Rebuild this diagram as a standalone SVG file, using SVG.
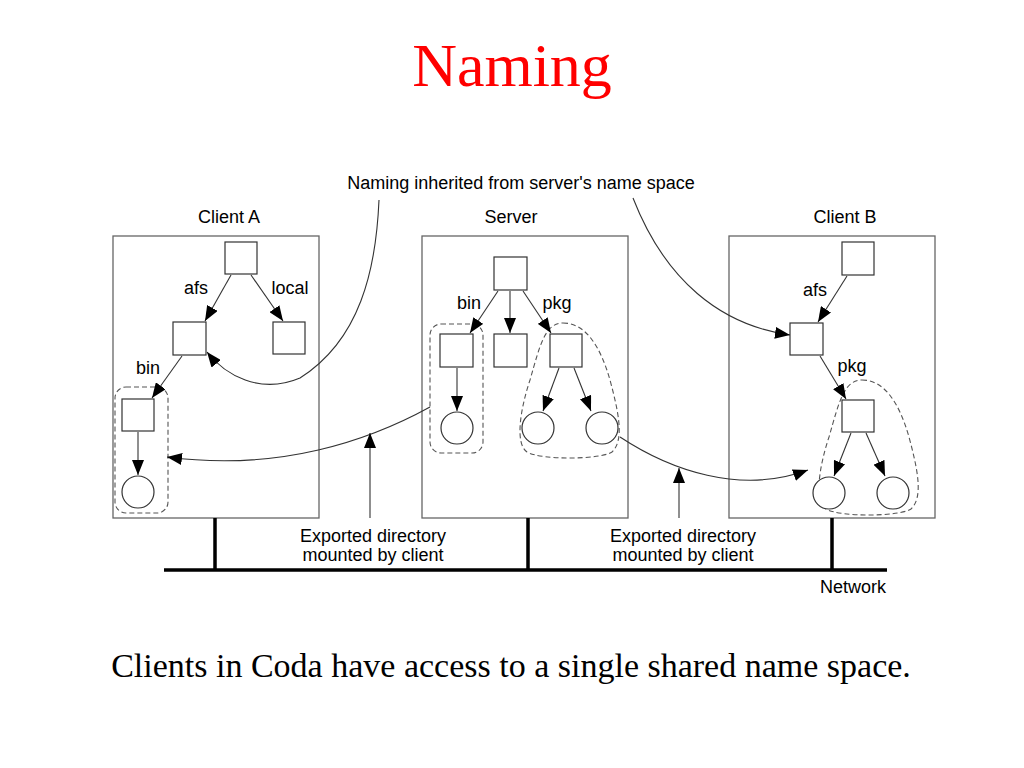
<svg xmlns="http://www.w3.org/2000/svg" width="1024" height="768" viewBox="0 0 1024 768">
<defs>
<marker id="ah" markerWidth="15" markerHeight="12" refX="15" refY="6" orient="auto" markerUnits="userSpaceOnUse">
<path d="M0,0 L15,6 L0,12 Z" fill="#000"/>
</marker>
<path id="blob" d="M 563 323 C 585 323, 600 345, 610 380 C 618 410, 625 440, 612 452 C 600 460, 540 460, 527 452 C 515 444, 520 410, 530 380 C 540 345, 545 323, 563 323 Z"/>
</defs>
<style>
.box{fill:none;stroke:#666;stroke-width:1.3}
.nd{fill:#fff;stroke:#333;stroke-width:1.2}
.dash{fill:none;stroke:#555;stroke-width:1.1;stroke-dasharray:5 3}
.ln{fill:none;stroke:#333;stroke-width:1.1;marker-end:url(#ah)}
.net{fill:none;stroke:#000;stroke-width:3.5}
.lab{font-family:"Liberation Sans",Arial,sans-serif;font-size:18px;fill:#000}
.c{text-anchor:middle}
</style>
<rect width="1024" height="768" fill="#fff"/>
<text x="512" y="86" font-family="'Liberation Serif','Times New Roman',serif" font-size="62" fill="#ff0000" text-anchor="middle">Naming</text>

<text class="lab c" x="521" y="189">Naming inherited from server's name space</text>
<text class="lab c" x="229" y="223">Client A</text>
<text class="lab c" x="511" y="223">Server</text>
<text class="lab c" x="845" y="223">Client B</text>

<g id="clientA">
<rect class="box" x="113" y="236" width="206" height="282"/>
<rect class="nd" x="225" y="242" width="32" height="32"/>
<rect class="nd" x="173" y="322" width="33" height="33"/>
<rect class="nd" x="273" y="322" width="32" height="32"/>
<rect class="dash" x="115" y="387" width="53" height="126" rx="11"/>
<rect class="nd" x="122" y="399" width="32" height="32"/>
<circle class="nd" cx="138" cy="492" r="16"/>
<text class="lab c" x="196" y="294">afs</text>
<text class="lab c" x="290" y="294">local</text>
<text class="lab c" x="148" y="374">bin</text>
</g>

<g id="server">
<rect class="box" x="422" y="236" width="206" height="282"/>
<rect class="nd" x="494" y="257" width="33" height="33"/>
<rect class="dash" x="430" y="324" width="53" height="129" rx="11"/>
<use href="#blob" class="dash"/>
<rect class="nd" x="440" y="334" width="33" height="33"/>
<rect class="nd" x="494" y="334" width="33" height="33"/>
<rect class="nd" x="550" y="334" width="32" height="33"/>
<circle class="nd" cx="457" cy="428" r="16"/>
<circle class="nd" cx="538" cy="428" r="16"/>
<circle class="nd" cx="602" cy="428" r="16"/>
<text class="lab c" x="469" y="309">bin</text>
<text class="lab c" x="557" y="309">pkg</text>
</g>

<g id="clientB">
<rect class="box" x="729" y="236" width="206" height="282"/>
<rect class="nd" x="842" y="242" width="32" height="33"/>
<rect class="nd" x="790" y="323" width="33" height="32"/>
<use href="#blob" class="dash" transform="translate(299,57)"/>
<rect class="nd" x="842" y="400" width="32" height="32"/>
<circle class="nd" cx="829" cy="493" r="16"/>
<circle class="nd" cx="893" cy="493" r="16"/>
<text class="lab c" x="815" y="296">afs</text>
<text class="lab c" x="852" y="372">pkg</text>
</g>

<g id="network">
<path class="net" d="M164 570 H887 M215 518 V570 M528 518 V570 M832 518 V570"/>
<text class="lab c" x="853" y="593">Network</text>
</g>

<g id="labels">
<text class="lab c" x="373" y="542">Exported directory</text>
<text class="lab c" x="373" y="561">mounted by client</text>
<text class="lab c" x="683" y="542">Exported directory</text>
<text class="lab c" x="683" y="561">mounted by client</text>
</g>

<g id="connectors">
<line class="ln" x1="231" y1="275" x2="205" y2="321"/>
<line class="ln" x1="251" y1="275" x2="283" y2="321"/>
<line class="ln" x1="182" y1="356" x2="152" y2="398"/>
<line class="ln" x1="138" y1="432" x2="138" y2="475"/>
<path class="ln" d="M 379 200 C 376 270, 360 340, 300 378 C 260 395, 225 375, 207 352"/>

<line class="ln" x1="498" y1="291" x2="470" y2="333"/>
<line class="ln" x1="510" y1="291" x2="510" y2="333"/>
<line class="ln" x1="523" y1="291" x2="551" y2="333"/>
<line class="ln" x1="457" y1="368" x2="457" y2="411"/>
<line class="ln" x1="559" y1="368" x2="543" y2="411"/>
<line class="ln" x1="574" y1="368" x2="591" y2="411"/>

<line class="ln" x1="847" y1="276" x2="818" y2="322"/>
<line class="ln" x1="820" y1="356" x2="846" y2="399"/>
<line class="ln" x1="851" y1="433" x2="834" y2="476"/>
<line class="ln" x1="866" y1="433" x2="885" y2="476"/>

<path class="ln" d="M 633 198 C 665 280, 720 325, 790 335"/>
<path class="ln" d="M 430 407 C 370 440, 280 472, 167 457"/>
<path class="ln" d="M 620 437 C 670 470, 740 495, 808 470"/>
<line class="ln" x1="370" y1="518" x2="370" y2="433"/>
<line class="ln" x1="679" y1="518" x2="679" y2="468"/>
</g>

<text x="511" y="677" font-family="'Liberation Serif','Times New Roman',serif" font-size="34" fill="#000" text-anchor="middle">Clients in Coda have access to a single shared name space.</text>
</svg>
